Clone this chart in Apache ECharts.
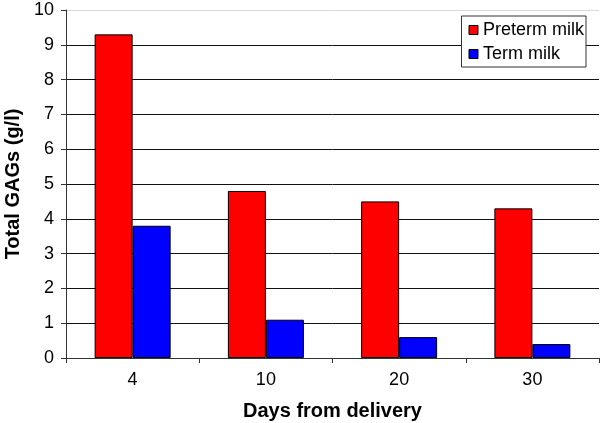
<!DOCTYPE html>
<html><head><meta charset="utf-8">
<script src="https://cdn.jsdelivr.net/npm/echarts@6/dist/echarts.min.js"></script>
<style>html,body{margin:0;padding:0;background:#fff}#c{width:600px;height:423px}</style>
</head><body><div id="c"></div>
<script>
var categories = ['4', '10', '20', '30'];
var pretermMilk = [9.3, 4.8, 4.5, 4.3];
var termMilk = [3.8, 1.1, 0.6, 0.4];
var yTicks = [0, 1, 2, 3, 4, 5, 6, 7, 8, 9, 10];

var chart = echarts.init(document.getElementById('c'), null, {renderer: 'canvas'});
var font = 'Liberation Sans, Arial, Helvetica, sans-serif';
var gridColors = yTicks.map(function (v, i) { return i === yTicks.length - 1 ? '#d8d8d8' : '#111'; });
chart.setOption({
  animation: false,
  backgroundColor: '#fff',
  grid: {left: 66, right: 1, top: 10, bottom: 65, containLabel: false, outerBoundsMode: 'none'},
  legend: {
    right: 14, top: 16, orient: 'vertical',
    backgroundColor: '#fff', borderColor: '#333', borderWidth: 1,
    padding: [5, 2, 4, 7], itemGap: 6,
    itemWidth: 9, itemHeight: 9, icon: 'rect',
    textStyle: {fontFamily: font, fontSize: 18, color: '#000'},
    data: [
      {name: 'Preterm milk', itemStyle: {color: '#ff0000', borderColor: '#000', borderWidth: 1}},
      {name: 'Term milk', itemStyle: {color: '#0000ff', borderColor: '#000', borderWidth: 1}}
    ]
  },
  xAxis: {
    type: 'category', data: categories,
    name: 'Days from delivery', nameLocation: 'middle', nameGap: 43,
    nameTextStyle: {fontFamily: font, fontSize: 20, fontWeight: 'bold', color: '#000'},
    axisLine: {lineStyle: {color: '#333', width: 1}},
    axisTick: {show: true, length: 5, lineStyle: {color: '#333'}},
    axisLabel: {fontFamily: font, fontSize: 18, color: '#000', margin: 13}
  },
  yAxis: {
    type: 'value', min: 0, max: 10, interval: 1,
    name: 'Total GAGs (g/l)', nameLocation: 'middle', nameGap: 43,
    nameTextStyle: {fontFamily: font, fontSize: 20, fontWeight: 'bold', color: '#000'},
    axisLine: {show: true, lineStyle: {color: '#333', width: 1}},
    axisTick: {show: true, length: 5, lineStyle: {color: '#333'}},
    axisLabel: {fontFamily: font, fontSize: 18, color: '#000', margin: 12,
      formatter: function (v) { return yTicks.indexOf(v) >= 0 ? String(v) : ''; }},
    splitLine: {show: true, lineStyle: {color: gridColors, width: 1}}
  },
  series: [
    {name: 'Preterm milk', type: 'bar', data: pretermMilk, barWidth: 38, barGap: '0%',
      itemStyle: {color: '#ff0000', borderColor: '#000', borderWidth: 1}},
    {name: 'Term milk', type: 'bar', data: termMilk, barWidth: 38, barGap: '0%',
      itemStyle: {color: '#0000ff', borderColor: '#000', borderWidth: 1}}
  ]
});
</script></body></html>
